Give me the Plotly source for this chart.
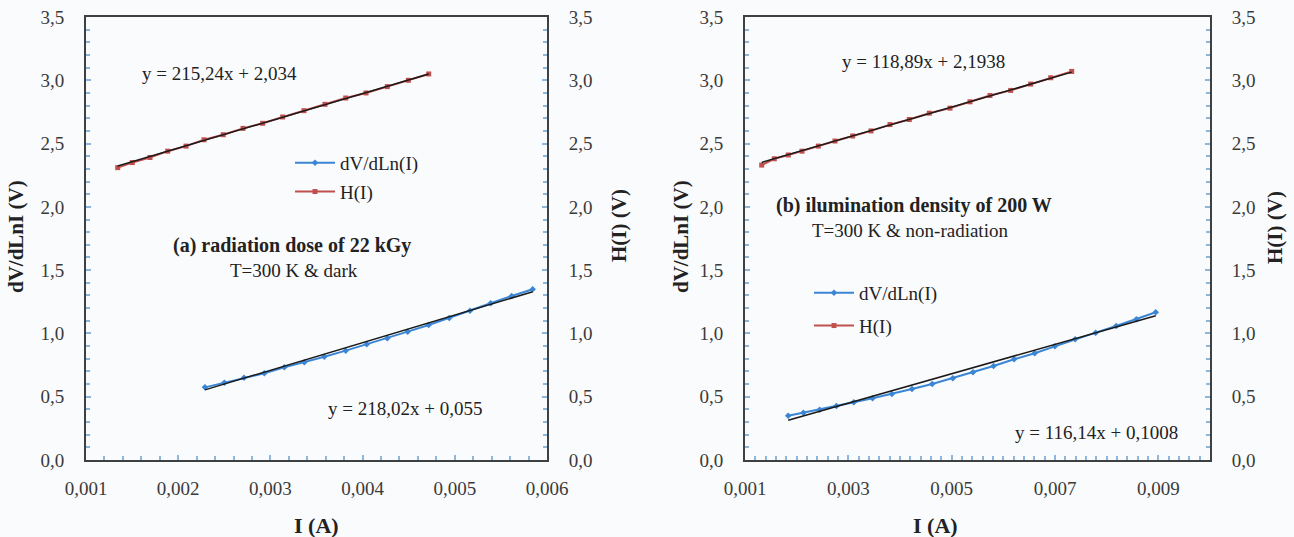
import plotly.graph_objects as go

W, H = 1294, 537

# ---------------- data ----------------
# Panel (a): radiation dose of 22 kGy, T=300 K & dark
I_a_dv = [0.00229, 0.00250, 0.002714, 0.002934, 0.003151, 0.003368, 0.003585, 0.003817, 0.004045,
          0.004268, 0.004489, 0.004717, 0.00494, 0.005165, 0.005389, 0.005617, 0.005845]
dv_a = [0.574, 0.611, 0.650, 0.685, 0.732, 0.772, 0.816, 0.864, 0.914,
        0.961, 1.014, 1.067, 1.122, 1.180, 1.238, 1.296, 1.349]
I_a_h = [0.001344, 0.001502, 0.001694, 0.001886, 0.002085, 0.00228, 0.002489, 0.002703, 0.002916,
         0.003133, 0.003364, 0.003592, 0.003817, 0.004037, 0.004268, 0.004496, 0.004717]
h_a = [2.31, 2.35, 2.39, 2.44, 2.48, 2.53, 2.57, 2.62, 2.66,
       2.71, 2.76, 2.81, 2.86, 2.90, 2.95, 3.00, 3.05]

# Panel (b): illumination density of 200 W, T=300 K & non-radiation
I_b_dv = [0.001836, 0.00213, 0.002446, 0.002769, 0.003106, 0.003468, 0.003843, 0.004232, 0.004623, 0.005022,
          0.005413, 0.005811, 0.006208, 0.006607, 0.006998, 0.007389, 0.007787, 0.008184, 0.008575, 0.00895]
dv_b = [0.350, 0.374, 0.397, 0.427, 0.456, 0.488, 0.521, 0.561, 0.600, 0.646,
        0.693, 0.743, 0.796, 0.843, 0.898, 0.954, 1.006, 1.059, 1.112, 1.167]
I_b_h = [0.001323, 0.001567, 0.001838, 0.002103, 0.002419, 0.002742, 0.003084, 0.003439, 0.003806,
         0.00418, 0.004567, 0.004968, 0.005355, 0.005742, 0.006142, 0.006529, 0.006917, 0.007323]
h_b = [2.33, 2.38, 2.41, 2.44, 2.48, 2.52, 2.56, 2.60, 2.65,
       2.69, 2.74, 2.78, 2.83, 2.88, 2.92, 2.97, 3.02, 3.07]

# Linear trendline coefficients (slope, intercept) as printed on the chart
fit_a_dv = [218.02, 0.055]
fit_a_h = [215.24, 2.034]
fit_b_dv = [116.14, 0.1008]
fit_b_h = [118.89, 2.1938]

eq_a_dv = "y = 218,02x + 0,055"
eq_a_h = "y = 215,24x + 2,034"
eq_b_dv = "y = 116,14x + 0,1008"
eq_b_h = "y = 118,89x + 2,1938"

# ---------------- styling ----------------
BLUE = "#3A86D4"
RED = "#C0504D"
BLACK = "#1a1a1a"
AXC = "#3a3a3a"
TICKC = "#8DB6DC"
FONT = "Liberation Serif"
BG = "#FAFBFD"


def px(x):
    return x / W


def py(y):
    return 1 - y / H


def trend(xs, fit):
    x0, x1 = min(xs), max(xs)
    return [x0, x1], [fit[0] * x0 + fit[1], fit[0] * x1 + fit[1]]


fig = go.Figure()


def add_series(xa, ya, xs, ys, name, color, symbol, legend):
    fig.add_trace(go.Scatter(
        x=xs, y=ys, xaxis=xa, yaxis=ya, name=name, mode="lines+markers",
        line=dict(color=color, width=2), marker=dict(color=color, size=5, symbol=symbol),
        legend=legend, legendgroup=legend + name, showlegend=True))


def add_trend(xa, ya, xs, fit):
    tx, ty = trend(xs, fit)
    fig.add_trace(go.Scatter(
        x=tx, y=ty, xaxis=xa, yaxis=ya, mode="lines",
        line=dict(color=BLACK, width=1.5), showlegend=False, hoverinfo="skip"))


# panel (a)
add_series("x", "y", I_a_dv, dv_a, "dV/dLn(I)", BLUE, "diamond", "legend")
add_series("x", "y2", I_a_h, h_a, "H(I)", RED, "square", "legend")
add_trend("x", "y", I_a_dv, fit_a_dv)
add_trend("x", "y2", I_a_h, fit_a_h)
# panel (b)
add_series("x2", "y3", I_b_dv, dv_b, "dV/dLn(I)", BLUE, "diamond", "legend2")
add_series("x2", "y4", I_b_h, h_b, "H(I)", RED, "square", "legend2")
add_trend("x2", "y3", I_b_dv, fit_b_dv)
add_trend("x2", "y4", I_b_h, fit_b_h)

tickfont = dict(family=FONT, size=19, color=AXC)
ydom = [py(460), py(17)]
minor_y = dict(dtick=0.1, ticks="inside", ticklen=4, tickcolor=TICKC, tickwidth=1.5)


def xaxis(dom, anchor, r, tick0, dtick):
    return dict(domain=dom, anchor=anchor, range=r, tick0=tick0, dtick=dtick, tickmode="linear",
                tickformat=".3f", showline=True, linecolor="#404040", linewidth=2, mirror=True,
                showgrid=False, zeroline=False, ticks="inside", ticklen=5, tickcolor=TICKC,
                tickwidth=1.5, minor=dict(dtick=0.0002, ticks="inside", ticklen=4, tickcolor=TICKC,
                                          tickwidth=1.5),
                tickfont=tickfont, ticklabelstandoff=10, fixedrange=True, automargin=False)


def yaxis(anchor, side, overlaying=None):
    d = dict(domain=ydom, anchor=anchor, range=[0, 3.5], tick0=0, dtick=0.5, tickmode="linear",
             tickformat=".1f", side=side, showline=True, linecolor="#404040", linewidth=2,
             showgrid=False, zeroline=False, ticks="inside", ticklen=5, tickcolor=TICKC, tickwidth=1.5,
             minor=minor_y, tickfont=tickfont, ticklabelstandoff=16, fixedrange=True, automargin=False)
    if overlaying:
        d["overlaying"] = overlaying
    return d


ann = []


def text(x, y, s, size=19, bold=False, angle=0):
    ann.append(dict(x=px(x), y=py(y), xref="paper", yref="paper", text=f"<b>{s}</b>" if bold else s,
                    showarrow=False, xanchor="center", yanchor="middle", textangle=angle,
                    font=dict(family=FONT, size=size, color="#222222")))


# equations and captions
text(219, 73, eq_a_h)
text(405, 408, eq_a_dv)
text(292, 245, "(a) radiation dose of 22 kGy", size=20, bold=True)
text(294, 270, "T=300 K &amp; dark")
text(923, 62, eq_b_h)
text(1096, 432, eq_b_dv)
text(914, 206, "(b) ilumination density of 200 W", size=20, bold=True)
text(910, 230, "T=300 K &amp; non-radiation")

# axis titles
text(16, 237, "dV/dLnI (V)", size=21, bold=True, angle=-90)
text(619, 226, "H(I) (V)", size=21, bold=True, angle=-90)
text(681, 237, "dV/dLnI (V)", size=21, bold=True, angle=-90)
text(1275, 228, "H(I) (V)", size=21, bold=True, angle=-90)
text(316, 525, "I (A)", size=22, bold=True)
text(935, 525, "I (A)", size=22, bold=True)

legfont = dict(family=FONT, size=19, color="#222222")

fig.update_layout(
    width=W, height=H, margin=dict(l=0, r=0, t=0, b=0, autoexpand=False),
    paper_bgcolor=BG, plot_bgcolor=BG, separators=", ",
    xaxis=xaxis([px(86), px(547)], "y", [0.001, 0.006], 0.001, 0.001),
    yaxis=yaxis("x", "left"),
    yaxis2=yaxis("x", "right", overlaying="y"),
    xaxis2=xaxis([px(745), px(1210)], "y3", [0.001, 0.010], 0.001, 0.002),
    yaxis3=yaxis("x2", "left"),
    yaxis4=yaxis("x2", "right", overlaying="y3"),
    legend=dict(x=px(290), y=py(144), xanchor="left", yanchor="top", font=legfont,
                bgcolor="rgba(0,0,0,0)", tracegroupgap=1, itemwidth=40),
    legend2=dict(x=px(809), y=py(274), xanchor="left", yanchor="top", font=legfont,
                 bgcolor="rgba(0,0,0,0)", tracegroupgap=5, itemwidth=40),
    annotations=ann, showlegend=True,
)

fig.write_html("out.html")
